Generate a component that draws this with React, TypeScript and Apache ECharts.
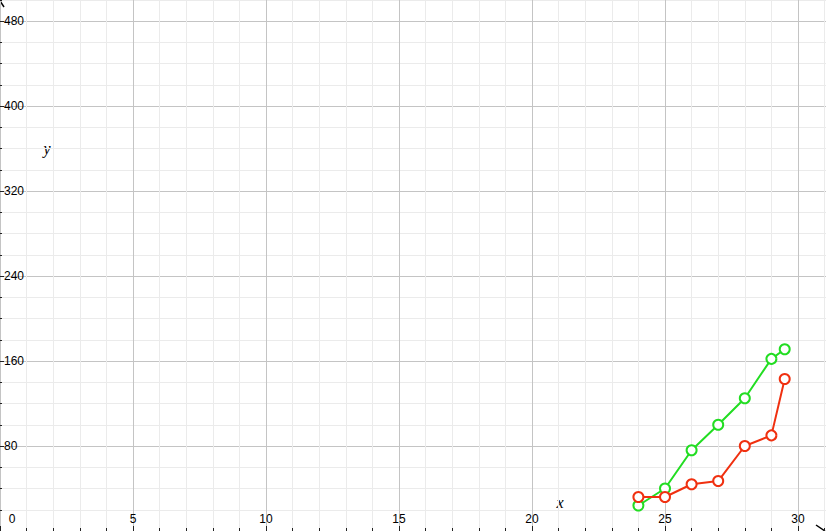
import * as React from "react";
import * as echarts from "echarts";

// values
const xValues = [24, 25, 26, 27, 28, 29, 29.5];
const greenValues = [24, 40, 76, 100, 125, 162, 171];
const redValues = [32, 32, 44, 47, 80, 90, 143];

// visible window is 826x531; chart is drawn a bit larger and clipped so the
// grid ends on "nice" values (x 0..35, y 0..560)
const VIEW_W = 826;
const VIEW_H = 531;
const PX_PER_X = 26.6;
const PX_PER_Y = 1.0625;
const X_MAX = 35;
const Y_MAX = 560;
const CHART_W = X_MAX * PX_PER_X;
const CHART_H = Y_MAX * PX_PER_Y;
const SHIFT = CHART_H - VIEW_H;

const labelFont = "'Liberation Sans', Arial, sans-serif";
const nameFont = "'Liberation Serif', 'DejaVu Serif', serif";

export default function App() {
  const chartRef = React.useRef<HTMLDivElement | null>(null);

  React.useEffect(() => {
    if (!chartRef.current) return;
    const chart = echarts.init(chartRef.current, undefined, { renderer: "svg" });

    chart.setOption({
      animation: false,
      backgroundColor: "#ffffff",
      grid: { left: 0, right: 0, top: 0, bottom: 0, containLabel: false, outerBoundsMode: "none" },
      xAxis: {
        type: "value",
        min: 0,
        max: X_MAX,
        interval: 5,
        axisLine: { show: false },
        axisTick: { show: true, inside: true, length: 5, lineStyle: { color: "#222" } },
        minorTick: { show: true, splitNumber: 5, length: 3, lineStyle: { color: "#222" } },
        axisLabel: {
          inside: true,
          margin: 6,
          color: "#000",
          fontSize: 12,
          fontFamily: labelFont,
          formatter: (v: number) => (v === 0 || v >= X_MAX ? "" : String(v)),
        },
        splitLine: { show: true, lineStyle: { color: "#c4c4c4", width: 1 } },
        minorSplitLine: { show: true, lineStyle: { color: "#ebebeb", width: 1 } },
      },
      yAxis: {
        type: "value",
        min: 0,
        max: Y_MAX,
        interval: 80,
        axisLine: { show: false },
        axisTick: { show: true, inside: true, length: 4, lineStyle: { color: "#222" } },
        minorTick: { show: true, splitNumber: 4, length: 2, lineStyle: { color: "#222" } },
        axisLabel: {
          inside: true,
          margin: 4,
          color: "#000",
          fontSize: 12,
          fontFamily: labelFont,
          formatter: (v: number) => (v === 0 || v >= Y_MAX ? "" : String(v)),
        },
        splitLine: { show: true, lineStyle: { color: "#c4c4c4", width: 1 } },
        minorSplitLine: { show: true, lineStyle: { color: "#ebebeb", width: 1 } },
      },
      graphic: [
        {
          type: "text",
          x: 12,
          y: 519 + SHIFT,
          style: {
            text: "0",
            fill: "#000",
            font: `12px ${labelFont}`,
            align: "center",
            verticalAlign: "middle",
          },
        },
        {
          type: "text",
          x: 560,
          y: 502 + SHIFT,
          style: {
            text: "x",
            fill: "#000",
            font: `italic 16px ${nameFont}`,
            align: "center",
            verticalAlign: "middle",
          },
        },
        {
          type: "text",
          x: 47,
          y: 148 + SHIFT,
          style: {
            text: "y",
            fill: "#000",
            font: `italic 16px ${nameFont}`,
            align: "center",
            verticalAlign: "middle",
          },
        },
        {
          type: "line",
          shape: { x1: 0, y1: 1 + SHIFT, x2: 4, y2: 7 + SHIFT },
          style: { stroke: "#000", lineWidth: 1.5 },
        },
        {
          type: "line",
          shape: { x1: 816, y1: 525 + SHIFT, x2: 825, y2: 531 + SHIFT },
          style: { stroke: "#000", lineWidth: 1.5 },
        },
      ],
      series: [
        {
          name: "green",
          type: "line",
          data: xValues.map((x, i) => [x, greenValues[i]]),
          symbol: "circle",
          symbolSize: 10,
          showAllSymbol: true,
          lineStyle: { color: "#22dd22", width: 2 },
          itemStyle: { color: "#ffffff", borderColor: "#22dd22", borderWidth: 2 },
          z: 3,
        },
        {
          name: "red",
          type: "line",
          data: xValues.map((x, i) => [x, redValues[i]]),
          symbol: "circle",
          symbolSize: 10,
          showAllSymbol: true,
          lineStyle: { color: "#f03010", width: 2 },
          itemStyle: { color: "#ffffff", borderColor: "#f03010", borderWidth: 2 },
          z: 4,
        },
      ],
    });

    return () => {
      chart.dispose();
    };
  }, []);

  return (
    <div
      style={{
        position: "fixed",
        left: 0,
        top: 0,
        width: VIEW_W,
        height: VIEW_H,
        overflow: "hidden",
        background: "#fff",
      }}
    >
      <div
        ref={chartRef}
        style={{ position: "absolute", left: 0, top: -SHIFT, width: CHART_W, height: CHART_H }}
      />
    </div>
  );
}
